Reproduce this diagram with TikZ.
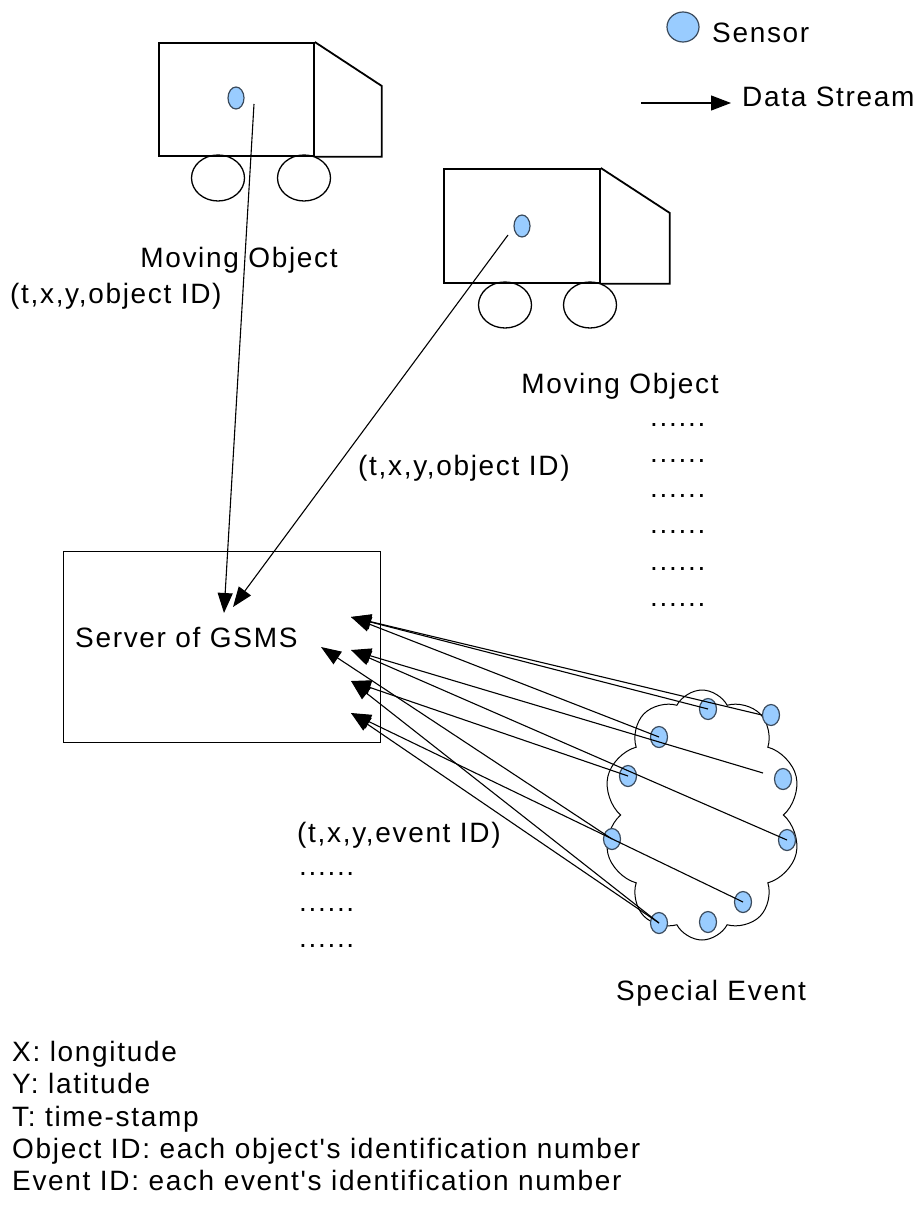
\documentclass[tikz,border=0pt]{standalone}
\usepackage{fontspec}
\setmainfont{Liberation Sans}[LetterSpace=6,Ligatures=TeXOff]
\usetikzlibrary{arrows.meta,positioning,shapes.geometric,shapes.symbols}
\definecolor{sensorfill}{HTML}{99CCFF}
\definecolor{sensorline}{HTML}{3A4A5C}

\begin{document}
\begin{tikzpicture}[x=1pt,y=-1pt,
    every node/.style={font=\fontsize{28}{32.3}\selectfont},
    txt/.style={inner sep=0pt},
    sensor/.style={ellipse,draw=sensorline,fill=sensorfill,line width=1.2pt,inner sep=0pt,minimum width=17pt,minimum height=21pt},
    hull/.style={draw,line width=1.8pt},
    wheel/.style={ellipse,draw,line width=1.3pt,minimum width=53pt,minimum height=46pt,inner sep=0pt},
    flow/.style={-{Triangle[length=20pt,width=15pt]},line width=1.1pt}]
  \useasboundingbox (0,0) rectangle (920,1209);

  % key
  \node[sensor,minimum width=32pt,minimum height=30pt] (keysensor) at (683,27) {};
  \node[txt,anchor=base west] (keysensorname) at (712,43) {Sensor};
  \coordinate (keyfrom) at (641,103);
  \coordinate (keyto) at (731,103);
  \draw[flow] (keyfrom) -- (keyto);
  \node[txt,anchor=base west] (keystream) at (742,107) {Data Stream};

  % first truck
  \node[hull,anchor=north west,minimum width=155pt,minimum height=113pt,inner sep=0pt] (body1) at (158,42) {};
  \draw[hull] (body1.north east) -- ++(67,44) |- (body1.south east);
  \node[wheel] (wheel1a) at (218,178) {};
  \node[wheel] (wheel1b) at (304,178) {};
  \node[sensor,minimum width=16pt,minimum height=22pt] (sensor1) at (236,98) {};
  \node[txt,anchor=base] (truck1name) at (239,267) {Moving Object};
  \node[txt,anchor=base west] (data1) at (10,303) {(t,x,y,object ID)};

  % second truck
  \node[hull,anchor=north west,minimum width=156pt,minimum height=114pt,inner sep=0pt] (body2) at (443,168) {};
  \draw[hull] (body2.north east) -- ++(69,45) |- (body2.south east);
  \node[wheel] (wheel2a) at (505,305) {};
  \node[wheel] (wheel2b) at (590,305) {};
  \node[sensor,minimum width=16pt,minimum height=22pt] (sensor2) at (522,226) {};
  \node[txt,anchor=base] (truck2name) at (620,393) {Moving Object};
  \node[txt,anchor=base west] (data2) at (358,475) {(t,x,y,object ID)};
  \foreach \k/\y in {1/426,2/462,3/497,4/533,5/570,6/606}
    \node[txt,anchor=base west] (more\k) at (650,\y) {......};

  % server
  \node[draw,line width=1.4pt,anchor=north west,minimum width=317pt,minimum height=191pt,inner sep=0pt] (server) at (63,551) {};
  \node[txt,anchor=base west] (servername) at (75,647) {Server of GSMS};

  \coordinate (from1) at (254,104);
  \coordinate (from2) at (508,235);
  \coordinate (hit1) at (224,613);
  \coordinate (hit2) at (233,607);
  \draw[flow] (from1) -- (hit1);
  \draw[flow] (from2) -- (hit2);

  % event cloud and its sensors
  \node[cloud,draw,line width=1pt,cloud puffs=10,cloud puff arc=125,cloud ignores aspect,
        minimum width=198pt,minimum height=250pt,inner sep=0pt] (event) at (702,815) {};
  \node[txt,anchor=base] (eventname) at (711,1000) {Special Event};
  \foreach \k/\x/\y in {1/708/709,2/771/715,3/659/737,4/783/779,5/628/776,
                        6/787/840,7/612/839,8/743/902,9/659/923,10/708/922}
    \node[sensor] (ev\k) at (\x,\y) {};

  \coordinate (in1) at (351,617);
  \coordinate (in2) at (351,650);
  \coordinate (in3) at (321,647);
  \coordinate (in4) at (351,681);
  \coordinate (in5) at (351,713);
  \coordinate (stray) at (763,773);
  \foreach \a/\b in {ev1.center/in1,ev2.west/in1,ev3.center/in1,stray/in2,ev6.center/in2,
                     ev7.center/in3,ev5.center/in4,ev9.center/in4,ev8.center/in5,ev9.center/in5}
    \draw[flow] (\a) -- (\b);

  \node[txt,anchor=base west] (data3) at (297,842) {(t,x,y,event ID)};
  \foreach \k/\y in {1/875,2/911,3/947}
    \node[txt,anchor=base west] (evmore\k) at (299,\y) {......};

  % notation
  \node[txt,anchor=north west,align=left] (notation) at (12,1041)
    {X: longitude\\Y: latitude\\T: time-stamp\\Object ID: each object's identification number\\Event ID: each event's identification number};
\end{tikzpicture}
\end{document}
